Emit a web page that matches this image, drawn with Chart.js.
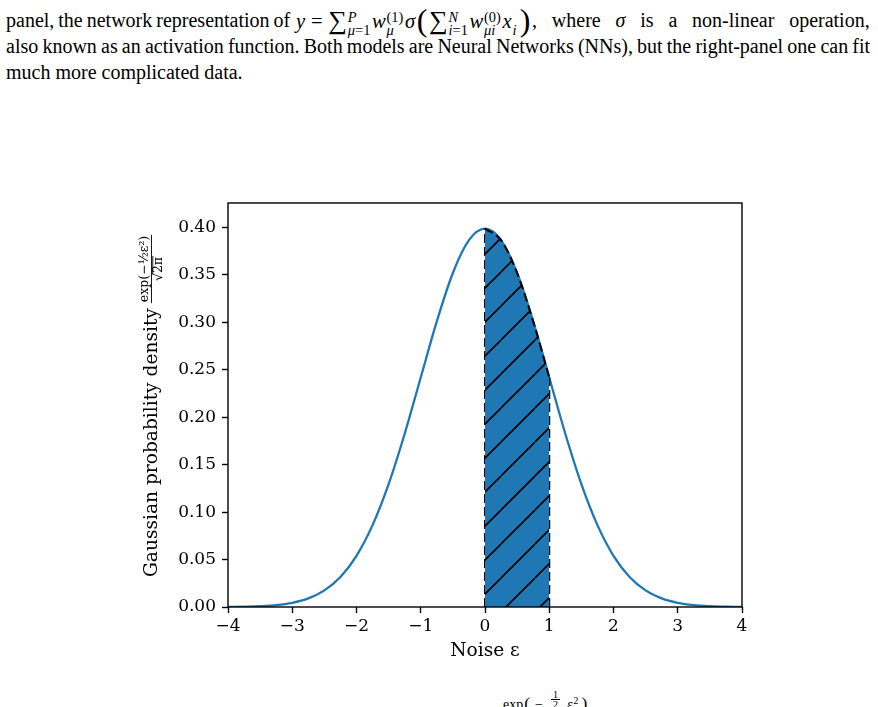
<!DOCTYPE html>
<html>
<head>
<meta charset="utf-8">
<script src="https://cdn.jsdelivr.net/npm/chart.js@4.4.1/dist/chart.umd.min.js"></script>
<style>
  html, body { margin: 0; padding: 0; background: #fff; }
  body { width: 878px; height: 707px; position: relative; overflow: hidden; }
  .line {
    position: absolute; left: 6px; height: 23px; line-height: 23px;
    font-family: "Liberation Serif", "Times New Roman", serif; font-size: 20px;
    color: #000; white-space: nowrap;
  }
  .m { word-spacing: 0; transform-origin: 0 50%; }
  .st { display: inline-block; vertical-align: -0.5em; font-size: 0.7em; line-height: 0.95; text-align: left; margin: 0 0.12em 0 0.05em; }
  .st span { display: block; }
  .op { font-size: 1.28em; vertical-align: -0.05em; }
  .big { font-size: 1.55em; vertical-align: -0.1em; margin: 0 0.05em; }
  .rel { margin: 0 0.28em; }
  #eq { position: absolute; left: 503px; top: 690px; font-family: "Liberation Serif", "Times New Roman", serif; font-size: 14px; line-height: 16px; white-space: nowrap; }
  #eq .fr { display: inline-block; font-size: 10px; line-height: 9px; vertical-align: 0.1em; text-align: center; margin: 0 7px 0 4px; }
  #eq .fr span { display: block; }
  #chartBox { position: absolute; left: 0; top: 0; width: 878px; height: 707px; }
</style>
</head>
<body>
<div class="line just" data-w="284" style="top:9px; left:6px">panel, the network representation of</div>
<div class="line" style="top:9px; left:296px"><span class="m" id="math" data-w="236" style="display:inline-block"><i>y</i><span class="rel">=</span><span class="op">∑</span><span class="st"><span><i>P</i></span><span><i>μ</i>=1</span></span><i>w</i><span class="st"><span>(1)</span><span><i>μ</i></span></span><i>σ</i><span class="big">(</span><span class="op">∑</span><span class="st"><span><i>N</i></span><span><i>i</i>=1</span></span><i>w</i><span class="st"><span>(0)</span><span><i>μi</i></span></span><i>x</i><span class="st"><span>&nbsp;</span><span><i>i</i></span></span><span class="big">)</span></span></div>
<div class="line just" data-w="338" style="top:9px; left:532px">, where <i>σ</i> is a non-linear operation,</div>
<div class="line just" data-w="864" style="top:35px">also known as an activation function. Both models are Neural Networks (NNs), but the right-panel one can fit</div>
<div class="line" style="top:61px">much more complicated data.</div>
<div id="eq">exp<span style="font-size:1.25em; margin-left:1px">(</span><span style="margin:0 4px 0 5px">−</span><span class="fr"><span style="border-bottom:0.8px solid #000; padding:0 2px">1</span><span>2</span></span><i>ε</i><span style="font-size:0.7em; position:relative; top:-0.55em; margin-left:1px">2</span><span style="font-size:1.25em; margin-left:3px">)</span></div>

<div id="chartBox"><canvas id="pdfChart" width="878" height="707"></canvas></div>

<script>
// values
const epsX = [-4, -3.75, -3.5, -3.25, -3, -2.75, -2.5, -2.25, -2, -1.75, -1.5, -1.25, -1, -0.75, -0.5, -0.25,
              0, 0.25, 0.5, 0.75, 1, 1.25, 1.5, 1.75, 2, 2.25, 2.5, 2.75, 3, 3.25, 3.5, 3.75, 4];
const densityY = [0.0001, 0.0004, 0.0009, 0.0020, 0.0044, 0.0091, 0.0175, 0.0317, 0.0540, 0.0863, 0.1295, 0.1826, 0.2420, 0.3011, 0.3521, 0.3867,
                  0.3989, 0.3867, 0.3521, 0.3011, 0.2420, 0.1826, 0.1295, 0.0863, 0.0540, 0.0317, 0.0175, 0.0091, 0.0044, 0.0020, 0.0009, 0.0004, 0.0001];
const shadeX = [0, 0.25, 0.5, 0.75, 1];
const shadeY = [0.3989, 0.3867, 0.3521, 0.3011, 0.2420];
const xTicks = [-4, -3, -2, -1, 0, 1, 2, 3, 4];
const yTicks = [0, 0.05, 0.10, 0.15, 0.20, 0.25, 0.30, 0.35, 0.40];
const yMax = 0.4259;

const xTitle = 'Noise ε';
const yTitle = 'Gaussian probability density';

const C0 = '#1f77b4';
const tickFont = { family: 'DejaVu Serif', size: 17 };
const titleFont = { family: 'DejaVu Serif', size: 18.6 };

// stretch text pieces to the widths they have on the page
document.querySelectorAll('.just').forEach(el => {
    const target = +el.dataset.w;
    const w = el.scrollWidth;
    const spaces = (el.textContent.match(/ /g) || []).length;
    if (spaces > 0) el.style.wordSpacing = ((target - w) / spaces) + 'px';
});
const mathEl = document.getElementById('math');
mathEl.style.transform = 'scaleX(' + (+mathEl.dataset.w / mathEl.getBoundingClientRect().width) + ')';

// hatch '/' over the blue fill
function makeHatch() {
    const s = 34;
    const c = document.createElement('canvas');
    c.width = s; c.height = s;
    const g = c.getContext('2d');
    g.fillStyle = C0;
    g.fillRect(0, 0, s, s);
    g.strokeStyle = '#000';
    g.lineWidth = 1.6;
    for (const k of [-s, 0, s]) {
        g.beginPath();
        g.moveTo(k, s);
        g.lineTo(k + s, 0);
        g.stroke();
    }
    const p = g.createPattern(c, 'repeat');
    p.setTransform(new DOMMatrix([1, 0, 0, 1, 25, 0]));
    return p;
}

const framePlugin = {
    id: 'frame',
    afterDatasetsDraw(chart) {
        const { ctx, chartArea: a } = chart;
        ctx.save();
        ctx.strokeStyle = '#000';
        ctx.lineWidth = 1.4;
        ctx.strokeRect(a.left, a.top, a.right - a.left, a.bottom - a.top);
        ctx.restore();
    }
};

// y title: text plus the fraction exp(-eps^2/2)/sqrt(2 pi)
const yLabelPlugin = {
    id: 'yLabel',
    afterDraw(chart) {
        const ctx = chart.ctx;
        const a = chart.chartArea;
        ctx.save();
        ctx.translate(a.left - 71, a.bottom - 30);
        ctx.rotate(-Math.PI / 2);
        ctx.fillStyle = '#000';
        ctx.strokeStyle = '#000';
        ctx.textBaseline = 'alphabetic';
        ctx.textAlign = 'left';
        ctx.font = '18.6px "DejaVu Serif"';
        ctx.fillText(yTitle, 0, 0);
        const x0 = ctx.measureText(yTitle).width + 6;

        ctx.font = '12.5px "DejaVu Serif"';
        const num = 'exp(−½ε²)';
        const nw = ctx.measureText(num).width;
        ctx.fillText(num, x0, -9);
        ctx.lineWidth = 0.9;
        ctx.beginPath();
        ctx.moveTo(x0 - 1, -5.5);
        ctx.lineTo(x0 + nw + 1, -5.5);
        ctx.stroke();
        const den = '√2π';
        const dw = ctx.measureText(den).width;
        const dx = x0 + (nw - dw) / 2;
        ctx.fillText(den, dx, 5);
        const rw = ctx.measureText('√').width;
        ctx.beginPath();
        ctx.moveTo(dx + rw - 1, -4.2);
        ctx.lineTo(dx + dw + 1, -4.2);
        ctx.stroke();
        ctx.restore();
    }
};

const fmtX = v => (v < 0 ? '−' + Math.abs(v) : String(v));

new Chart(document.getElementById('pdfChart'), {
    type: 'line',
    data: {
        datasets: [
            {
                label: 'shaded',
                data: shadeX.map((x, i) => ({ x: x, y: shadeY[i] })),
                borderColor: '#000',
                borderWidth: 2,
                borderDash: [9, 4],
                backgroundColor: makeHatch(),
                fill: 'origin',
                cubicInterpolationMode: 'monotone',
                pointRadius: 0
            },
            {
                label: 'left edge',
                data: [{ x: shadeX[0], y: 0 }, { x: shadeX[0], y: shadeY[0] }],
                borderColor: '#000',
                borderWidth: 2,
                borderDash: [9, 4],
                fill: false,
                pointRadius: 0
            },
            {
                label: 'right edge',
                data: [{ x: shadeX[shadeX.length - 1], y: 0 }, { x: shadeX[shadeX.length - 1], y: shadeY[shadeY.length - 1] }],
                borderColor: '#000',
                borderWidth: 2,
                borderDash: [9, 4],
                fill: false,
                pointRadius: 0
            },
            {
                label: 'density',
                data: epsX.map((x, i) => ({ x: x, y: densityY[i] })),
                borderColor: C0,
                borderWidth: 2.3,
                fill: false,
                cubicInterpolationMode: 'monotone',
                pointRadius: 0
            }
        ]
    },
    options: {
        responsive: false,
        animation: false,
        layout: { padding: { top: 203, right: 136, left: 0, bottom: 0 } },
        plugins: { legend: { display: false }, tooltip: { enabled: false } },
        scales: {
            x: {
                type: 'linear',
                min: -4,
                max: 4,
                afterFit(s) { s.height = 100; },
                afterBuildTicks(s) { s.ticks = xTicks.map(v => ({ value: v })); },
                ticks: { callback: fmtX, font: tickFont, color: '#000', padding: 3, maxRotation: 0, autoSkip: false },
                grid: { display: true, drawOnChartArea: false, drawTicks: true, tickLength: 6, tickWidth: 1.4, tickColor: '#000' },
                border: { display: false },
                title: { display: true, text: xTitle, font: titleFont, color: '#000', padding: { top: 0, bottom: 45 } }
            },
            y: {
                type: 'linear',
                min: 0,
                max: yMax,
                afterFit(s) { s.width = 228; },
                afterBuildTicks(s) { s.ticks = yTicks.map(v => ({ value: v })); },
                ticks: { callback: v => v.toFixed(2), font: tickFont, color: '#000', padding: 6 },
                grid: { display: true, drawOnChartArea: false, drawTicks: true, tickLength: 6, tickWidth: 1.4, tickColor: '#000' },
                border: { display: false }
            }
        }
    },
    plugins: [framePlugin, yLabelPlugin]
});
</script>
</body>
</html>
